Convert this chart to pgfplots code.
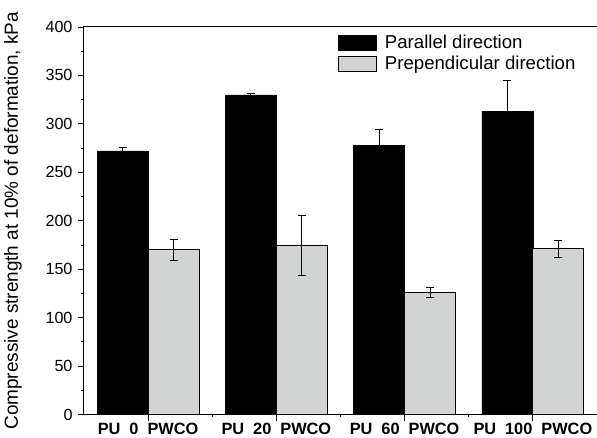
\documentclass[border=0pt]{standalone}
\usepackage{fontspec}
\setmainfont{Liberation Sans}
\usepackage{pgfplots}
\pgfplotsset{compat=1.18}
\usetikzlibrary{calc}
\definecolor{bargrey}{RGB}{210,211,211}
\pgfplotsset{boxleg/.style={legend image code/.code={\draw[##1] (0bp,-7.5bp) rectangle (38bp,7.5bp); \path (44bp,0bp);}}}

\begin{document}
\begin{tikzpicture}
\begin{axis}[
  scale only axis, width=513bp, height=387.5bp,
  ybar=0pt, bar width=51bp,
  xmin=-0.5, xmax=3.5, ymin=0, ymax=400,
  xtick={0,1,2,3},
  xticklabels={PU\hspace{0.55em}0\hspace{0.55em}PWCO, PU\hspace{0.55em}20\hspace{0.55em}PWCO, PU\hspace{0.55em}60\hspace{0.55em}PWCO, PU\hspace{0.55em}100\hspace{0.55em}PWCO},
  minor xtick={0.5,1.5,2.5},
  ytick={0,50,...,400}, minor y tick num=1,
  xtick pos=bottom, ytick pos=left, tick align=outside,
  major tick length=6bp, minor tick length=3bp,
  axis line style={line width=1bp},
  every tick/.style={black, line width=0.8bp},
  tick label style={font=\fontsize{16.2}{18}\selectfont},
  yticklabel style={xshift=-2bp},
  xticklabel style={font=\fontsize{16.4}{18}\selectfont\bfseries, yshift=1bp},
  /pgf/number format/assume math mode=true,
  ylabel={Compressive strength at 10\% of deformation, kPa},
  every axis y label/.style={at={(rel axis cs:0,0.5)}, xshift=-71bp, rotate=90, anchor=center, font=\fontsize{19}{21}\selectfont},
  legend cell align=left,
  legend style={at={(rel axis cs:0.495,0.984)}, anchor=north west, draw=none, fill=none, inner sep=0pt, row sep=2bp, font=\fontsize{18.7}{20}\selectfont},
]
\addplot[fill=black, draw=black, boxleg,
  error bars/.cd, y dir=plus, y explicit,
  error bar style={black, line width=0.8bp},
  error mark options={rotate=90, mark size=4bp, black, line width=0.8bp}]
  coordinates {(0,272) +- (0,4) (1,330) +- (0,1.5) (2,278) +- (0,16) (3,313) +- (0,32)};
\addlegendentry{Parallel direction}
\addplot[fill=bargrey, draw=black, line width=0.8bp, boxleg,
  error bars/.cd, y dir=both, y explicit,
  error bar style={black, line width=0.8bp},
  error mark options={rotate=90, mark size=4bp, black, line width=0.8bp}]
  coordinates {(0,170) +- (0,11) (1,175) +- (0,31) (2,126) +- (0,5) (3,171) +- (0,9)};
\addlegendentry{Prependicular direction}
\end{axis}
\pgfresetboundingbox
\path[use as bounding box] ($(current axis.south west)+(-84bp,-23bp)$) rectangle ($(current axis.north east)+(0bp,27bp)$);
\end{tikzpicture}
\end{document}
